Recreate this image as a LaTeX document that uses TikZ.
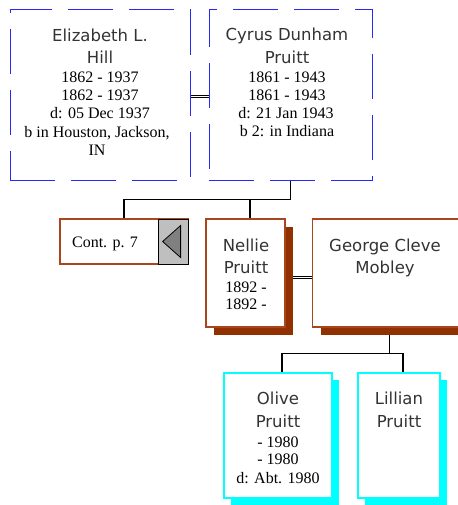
\documentclass[tikz,border=0pt]{standalone}
\usepackage{fontspec}
\setmainfont{Liberation Serif}
\newfontfamily\sansnm{DejaVu Sans}
\usetikzlibrary{shadows}
\pgfdeclarelayer{bg}
\pgfsetlayers{bg,main}
\definecolor{brline}{RGB}{170,70,30}
\definecolor{brshadow}{RGB}{145,48,0}
\definecolor{cyanline}{RGB}{0,255,255}
\definecolor{cyanfill}{RGB}{0,255,255}
\definecolor{lblue}{RGB}{40,40,250}
\tikzset{
  bluebox/.style={draw=lblue, line width=1pt, dash pattern=on 45pt off 16pt, fill=white, inner sep=0},
  brbox/.style={draw=brline, line width=1.2pt, fill=white, inner sep=0},
  brshbox/.style={brbox, drop shadow={shadow xshift=8pt, shadow yshift=-8pt, fill=brshadow, opacity=1}},
  cybox/.style={draw=cyanline, line width=1.6pt, fill=white, inner sep=0,
    drop shadow={shadow xshift=7pt, shadow yshift=-7pt, fill=cyanfill, opacity=1}},
  conn/.style={draw=black, line width=1.3pt},
  dbline/.style={draw=black, line width=0.9pt},
  nm/.style={font=\sansnm\fontsize{16.5}{20}\selectfont, text=black!80, anchor=base, inner sep=0},
  dt/.style={font=\fontsize{16}{18}\selectfont, anchor=base, inner sep=0},
}
\begin{document}
\begin{tikzpicture}[x=1pt,y=-1pt]
\useasboundingbox (0,0) rectangle (457,505);

% boxes
\node[bluebox, minimum width=180, minimum height=170] (eliz) at (100,95) {};
\node[bluebox, minimum width=163, minimum height=170] (cyrus) at (290.5,95) {};
\node[brbox, minimum width=128, minimum height=45] (cont) at (124,241.5) {};
\node[draw=black, line width=1pt, fill=black!25, minimum width=30, minimum height=45, inner sep=0, anchor=east] (grey) at (cont.east) {};
\draw[fill=black!50, line width=0.8pt] (grey.west) ++(5,0) -- ++(18,-16) -- ++(0,32) -- cycle;
\node[brshbox, minimum width=79, minimum height=108] (nellie) at (245.5,273) {};
\node[brshbox, minimum width=160, minimum height=108, anchor=west] (george) at (312,273) {};
\node[cybox, minimum width=108, minimum height=125] (olive) at (278,435.5) {};
\node[cybox, minimum width=82, minimum height=125] (lillian) at (399,435.5) {};

% connectors
\begin{pgfonlayer}{bg}
\draw[dbline] ([yshift=-0.2pt]eliz.east) -- ([yshift=-0.2pt]cyrus.west);
\draw[dbline] ([yshift=-2.4pt]eliz.east) -- ([yshift=-2.4pt]cyrus.west);
\draw[conn] (cyrus.south) -- ++(0,19) coordinate (j1);
\draw[conn] (j1) -| (cont.north);
\draw[conn] ([xshift=4.5pt]nellie.north) |- (j1);
\draw[dbline] ([yshift=-3pt]nellie.east) -- ([yshift=-3pt]nellie.east -| george.west);
\draw[dbline] ([yshift=-5.2pt]nellie.east) -- ([yshift=-5.2pt]nellie.east -| george.west);
\draw[conn] ([xshift=-3pt]george.south) -- ++(0,26) coordinate (j2);
\draw[conn] (j2) -| ([xshift=4pt]olive.north);
\draw[conn] (j2) -| ([xshift=4pt]lillian.north);
\end{pgfonlayer}

% texts
\node[nm] (e1) at (100,41.5) {Elizabeth L.};
\node[nm] (e2) at (100,64) {Hill};
\node[dt] (e3) at (100,83) {1862 - 1937};
\node[dt] (e4) at (100,101) {1862 - 1937};
\node[dt] (e5) at (100,119) {d: 05 Dec 1937};
\node[dt] (e6) at (97,138) {b in Houston, Jackson,};
\node[dt] (e7) at (97,156) {IN};

\node[nm] (c1) at (287,41) {Cyrus Dunham};
\node[nm] (c2) at (287,64) {Pruitt};
\node[dt] (c3) at (287,83) {1861 - 1943};
\node[dt] (c4) at (287,101) {1861 - 1943};
\node[dt] (c5) at (286,119) {d: 21 Jan 1943};
\node[dt] (c6) at (287,137) {b 2: in Indiana};

\node[dt] (k1) at (105,247) {Cont. p. 7};

\node[nm] (n1) at (246,251) {Nellie};
\node[nm] (n2) at (246,273) {Pruitt};
\node[dt] (n3) at (246,292) {1892 -};
\node[dt] (n4) at (246,309) {1892 -};

\node[nm] (g1) at (385,251) {George Cleve};
\node[nm] (g2) at (385,273) {Mobley};

\node[nm] (o1) at (278,404) {Olive};
\node[nm] (o2) at (278,427) {Pruitt};
\node[dt] (o3) at (278,447) {- 1980};
\node[dt] (o4) at (278,464) {- 1980};
\node[dt] (o5) at (278,483) {d: Abt. 1980};

\node[nm] (l1) at (399,404) {Lillian};
\node[nm] (l2) at (399,427) {Pruitt};
\end{tikzpicture}
\end{document}
